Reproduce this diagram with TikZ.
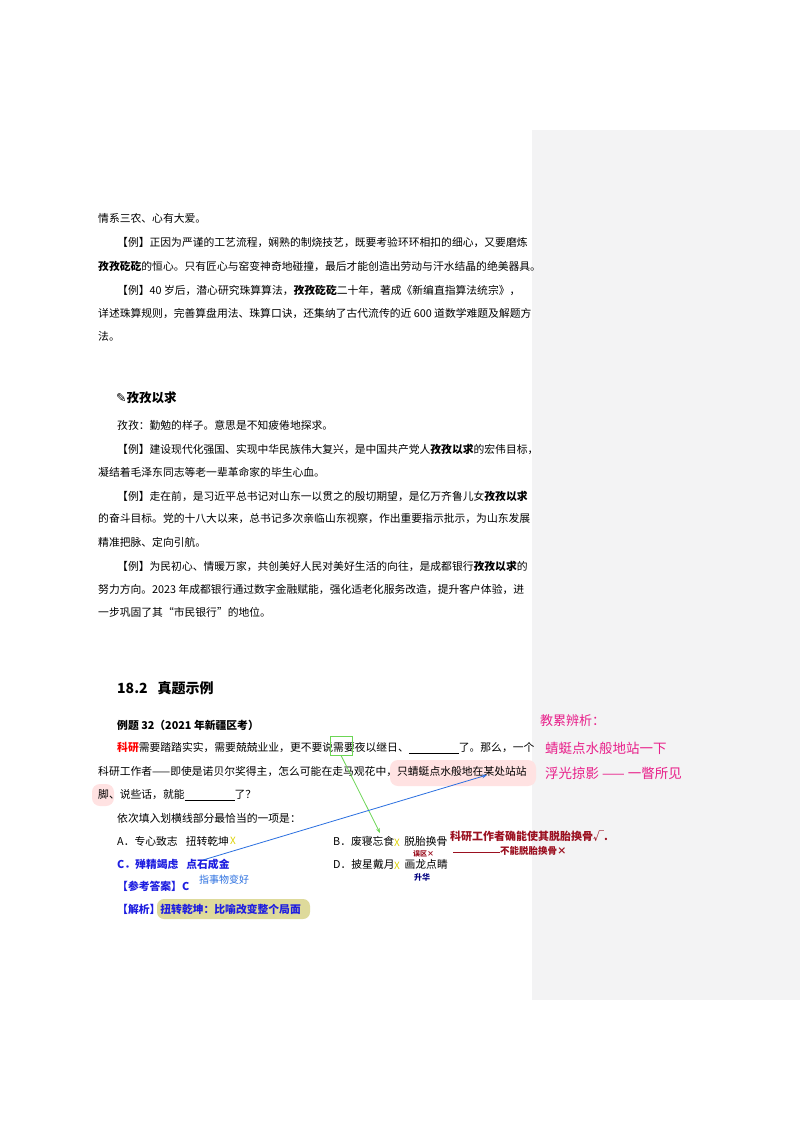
\documentclass[tikz,border=0pt]{standalone}
\usepackage{fontspec}
\setmainfont{Noto Sans CJK SC}
\newfontfamily\dejavu{DejaVu Sans}
\usetikzlibrary{arrows.meta}
\definecolor{panel}{HTML}{F3F3F4}
\definecolor{hpink}{HTML}{E8208A}
\definecolor{hred}{HTML}{9B1020}
\definecolor{hblue}{HTML}{2A6FE0}
\definecolor{hgreen}{HTML}{6CD655}
\definecolor{cblue}{HTML}{1E1EE0}
\newcommand{\ind}{\hspace{19pt}}
\begin{document}
\begin{tikzpicture}[x=1pt,y=-1pt,
  tl/.style={anchor=west,inner sep=0pt,font=\fontsize{10.8}{12}\selectfont},
  tb/.style={tl,font=\fontsize{10.8}{12}\selectfont\bfseries},
  hw/.style={anchor=west,inner sep=0pt},
  xm/.style={anchor=west,inner sep=0pt,text=yellow!70!olive,font=\fontsize{10}{12}\selectfont}]
\useasboundingbox (0,0) rectangle (800,1132);
\fill[white] (0,0) rectangle (800,1132);
\fill[panel] (532,130) rectangle (800,1000);
% highlights
\fill[pink!45,rounded corners=8pt] (390,760) rectangle (536,786);
\fill[pink!45,rounded corners=8pt] (92,784) rectangle (114,806);
\fill[olive!30,rounded corners=7pt] (157,899) rectangle (310,919);
% first block
\node[tl] (l1) at (98,218) {情系三农、心有大爱。};
\node[tl] (l2) at (98,243) {\ind【例】正因为严谨的工艺流程，娴熟的制烧技艺，既要考验环环相扣的细心，又要磨炼};
\node[tl] (l3) at (98,266) {\textbf{孜孜矻矻}的恒心。只有匠心与窑变神奇地碰撞，最后才能创造出劳动与汗水结晶的绝美器具。};
\node[tl] (l4) at (98,290) {\ind【例】40 岁后，潜心研究珠算算法，\textbf{孜孜矻矻}二十年，著成《新编直指算法统宗》，};
\node[tl] (l5) at (98,313) {详述珠算规则，完善算盘用法、珠算口诀，还集纳了古代流传的近 600 道数学难题及解题方};
\node[tl] (l6) at (98,336) {法。};
% second block
\node[tl,font=\fontsize{12.5}{14}\selectfont\bfseries] (h1) at (116,398) {{\dejavu ✎}孜孜以求};
\node[tl] (m1) at (117,425) {孜孜：勤勉的样子。意思是不知疲倦地探求。};
\node[tl] (m2) at (98,449) {\ind【例】建设现代化强国、实现中华民族伟大复兴，是中国共产党人\textbf{孜孜以求}的宏伟目标，};
\node[tl] (m3) at (98,472) {凝结着毛泽东同志等老一辈革命家的毕生心血。};
\node[tl] (m4) at (98,496) {\ind【例】走在前，是习近平总书记对山东一以贯之的殷切期望，是亿万齐鲁儿女\textbf{孜孜以求}};
\node[tl] (m5) at (98,519) {的奋斗目标。党的十八大以来，总书记多次亲临山东视察，作出重要指示批示，为山东发展};
\node[tl] (m6) at (98,542) {精准把脉、定向引航。};
\node[tl] (m7) at (98,566) {\ind【例】为民初心、情暖万家，共创美好人民对美好生活的向往，是成都银行\textbf{孜孜以求}的};
\node[tl] (m8) at (98,589) {努力方向。2023 年成都银行通过数字金融赋能，强化适老化服务改造，提升客户体验，进};
\node[tl] (m9) at (98,612) {一步巩固了其“市民银行”的地位。};
% section
\node[tl,font=\fontsize{14}{16}\selectfont\bfseries] (sec) at (117,688) {18.2\hspace{10pt}真题示例};
\node[tb] (q0) at (117,725) {例题 32（2021 年新疆区考）};
\node[tl] (q1) at (98,748) {\ind\textcolor{red}{\textbf{科研}}需要踏踏实实，需要兢兢业业，更不要说需要夜以继日、\underline{\hspace{50pt}}了。那么，一个};
\node[tl] (q2) at (98,772) {科研工作者——即使是诺贝尔奖得主，怎么可能在走马观花中，只蜻蜓点水般地在某处站站};
\node[tl] (q3) at (98,795) {脚、说些话，就能\underline{\hspace{50pt}}了？};
\node[tl] (q4) at (117,818) {依次填入划横线部分最恰当的一项是：};
\node[tl] (qa) at (117,841) {A．专心致志\hspace{8pt}扭转乾坤};
\node[tl] (qb) at (333,841) {B．废寝忘食\hspace{10pt}脱胎换骨};
\node[tb,text=cblue] (qc) at (117,864) {C．殚精竭虑\hspace{8pt}点石成金};
\node[tl] (qd) at (333,864) {D．披星戴月\hspace{10pt}画龙点睛};
\node[tb,text=cblue] (ans) at (117,886) {【参考答案】C};
\node[tb,text=cblue] (jx) at (117,909) {【解析】扭转乾坤：比喻改变整个局面};
% marks
\node[xm] (x1) at (230,841) {X};
\node[xm] (x2) at (394,843) {X};
\node[xm] (x3) at (394,866) {X};
% green box and arrow
\node[draw=hgreen,thick,minimum width=22pt,minimum height=19pt,inner sep=0pt] (gb) at (341,745.5) {};
\coordinate (gt) at (380,833);
\draw[hgreen,thick,-{Stealth[length=5pt]}] (gb.south) -- (gt);
% blue arrow
\coordinate (bs) at (203,860);
\coordinate (be) at (487,775);
\draw[hblue,thick,-{Stealth[length=5pt]}] (bs) -- (be);
% handwriting
\node[hw,text=hpink,font=\fontsize{13}{14}\selectfont] (p1) at (540,721) {教累辨析：};
\node[hw,text=hpink,font=\fontsize{13.5}{14}\selectfont] (p2) at (545,748) {蜻蜓点水般地站一下};
\node[hw,text=hpink,font=\fontsize{13.5}{14}\selectfont] (p3) at (545,773) {浮光掠影 —— 一瞥所见};
\node[hw,text=hred,font=\fontsize{11}{12}\selectfont\bfseries] (r1) at (450,836) {科研工作者确能使其脱胎换骨√.};
\coordinate (rl1) at (453,852);
\coordinate (rl2) at (500,852);
\draw[hred,thick] (rl1) -- (rl2);
\node[hw,text=hred,font=\fontsize{9.5}{12}\selectfont\bfseries] (r2) at (500,851) {不能脱胎换骨×};
\node[hw,text=hred,font=\fontsize{7}{8}\selectfont\bfseries] (r3) at (413,854) {误区×};
\node[hw,text=hblue,font=\fontsize{10}{12}\selectfont] (bl) at (199,880) {指事物变好};
\node[hw,text=blue!50!black,font=\fontsize{8}{10}\selectfont\bfseries] (nv) at (414,877) {升华};
\end{tikzpicture}
\end{document}
